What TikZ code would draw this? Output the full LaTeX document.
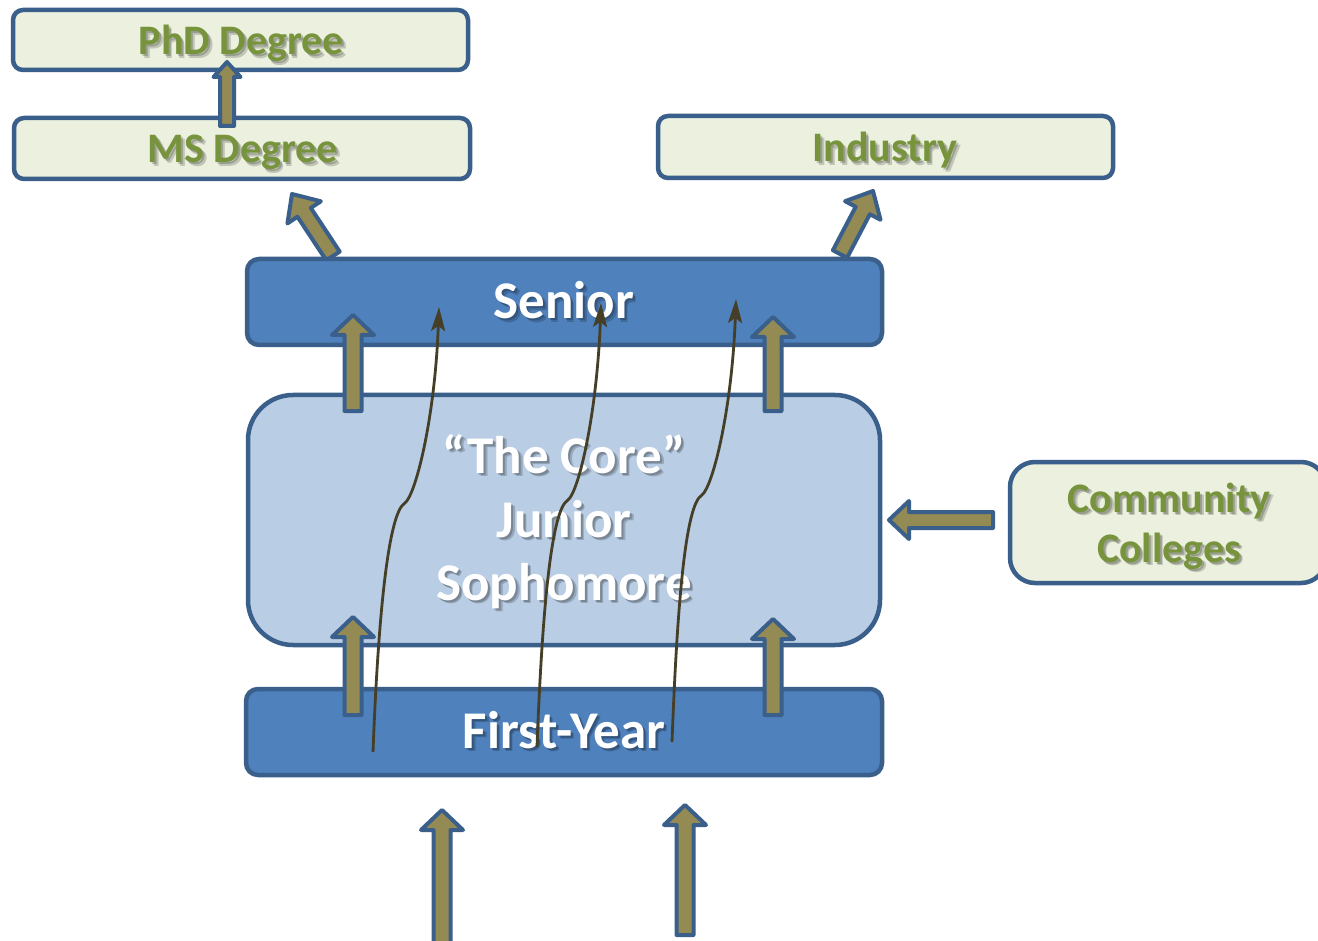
\documentclass[tikz,border=0pt]{standalone}
\usepackage{fontspec}
\setmainfont{Carlito}
\usetikzlibrary{calc,arrows.meta}

\definecolor{boxline}{HTML}{3A5F8B}
\definecolor{paleg}{HTML}{EBF1DE}
\definecolor{midblue}{HTML}{4F81BD}
\definecolor{paleblue}{HTML}{B9CDE5}
\definecolor{leafgreen}{HTML}{77933C}
\definecolor{olivefill}{HTML}{948A54}
\definecolor{pathbrown}{HTML}{463F28}

\tikzset{
  every node/.style={inner sep=0pt, outer sep=0pt},
  box/.style={draw=boxline, line width=4.5pt, rounded corners=10pt},
  greenbox/.style={box, fill=paleg},
  bluebox/.style={box, fill=midblue, rounded corners=12pt},
  greentext/.style={font=\fontsize{42}{50}\selectfont\bfseries, text=leafgreen, anchor=base},
  whitetext/.style={font=\fontsize{53}{63}\selectfont\bfseries, text=white, anchor=base},
  fatarrow/.style={draw=boxline, fill=olivefill, line width=4pt, line join=round},
  route/.style={draw=pathbrown, line width=2.8pt,
    -{Stealth[length=24pt, width=14pt, inset=5pt]}},
}

% block arrow from a base point to a tip point:
% #1 base, #2 tip, #3 shaft half width, #4 head half width, #5 head length
\newcommand\blockarrow[5]{%
  \coordinate (ba-h) at ($(#2)!#5!(#1)$);
  \draw[fatarrow] (#2)
    -- ($(ba-h)!#4!90:(#2)$)
    -- ($(ba-h)!#3!90:(#2)$)
    -- ($(#1)!#3!90:(#2)$)
    -- ($(#1)!#3!-90:(#2)$)
    -- ($(ba-h)!#3!-90:(#2)$)
    -- ($(ba-h)!#4!-90:(#2)$)
    -- cycle;}

% text with a soft drop shadow: #1 style, #2 name, #3 position, #4 text
\newcommand\shadowtext[4]{%
  \node[#1, text=black, opacity=0.18] at ($(#3)+(3.5,3.5)$) {#4};
  \node[#1, text=black, opacity=0.2] at ($(#3)+(2,2)$) {#4};
  \node[#1] (#2) at (#3) {#4};}

\begin{document}
\begin{tikzpicture}[x=1pt, y=-1pt]
\useasboundingbox (0,0) rectangle (1318,941);
\clip (0,0) rectangle (1318,941);
\fill[white] (0,0) rectangle (1318,941);

% exits from the senior year (drawn below the boxes)
\coordinate (ms-in-tip) at (292,194);
\coordinate (ms-in-base) at (333,256);
\coordinate (ind-in-tip) at (873,191);
\coordinate (ind-in-base) at (840,254);
\blockarrow{ms-in-base}{ms-in-tip}{8pt}{20pt}{22pt}
\blockarrow{ind-in-base}{ind-in-tip}{8pt}{20pt}{22pt}

% boxes
\node[greenbox, minimum width=455pt, minimum height=60pt] (phd) at (240.5,40) {};
\node[greenbox, minimum width=456pt, minimum height=61pt] (ms) at (242,148.5) {};
\node[greenbox, minimum width=455pt, minimum height=62pt] (ind) at (885.5,147) {};
\node[bluebox, minimum width=635pt, minimum height=86pt] (senior) at (564.5,302) {};
\node[box, fill=paleblue, rounded corners=45pt, minimum width=632pt, minimum height=250pt] (core) at (564,520) {};
\node[bluebox, minimum width=636pt, minimum height=86pt] (first) at (564,732) {};
\node[greenbox, rounded corners=25pt, minimum width=316pt, minimum height=121pt] (cc) at (1168,522.5) {};

% labels
\shadowtext{greentext}{phd-t}{241.5,55}{PhD Degree}
\shadowtext{greentext}{ms-t}{243,163}{MS Degree}
\shadowtext{greentext}{ind-t}{885,162}{Industry}
\shadowtext{greentext}{cc-t1}{1169,512}{Community}
\shadowtext{greentext}{cc-t2}{1169,562}{Colleges}
\shadowtext{whitetext}{sen-t}{564,319}{Senior}
\shadowtext{whitetext}{core-t1}{564,473}{“The Core”}
\shadowtext{whitetext}{core-t2}{564,537}{Junior}
\shadowtext{whitetext}{core-t3}{564,600}{Sophomore}
\shadowtext{whitetext}{fy-t}{564,748}{First-Year}

% block arrows between the stages
\coordinate (phd-in-tip) at (227,62);
\coordinate (phd-in-base) at (227,126);
\blockarrow{phd-in-base}{phd-in-tip}{7pt}{13.5pt}{15pt}

\coordinate (sen-l-tip) at (353,315);
\coordinate (sen-l-base) at (353,411);
\coordinate (sen-r-tip) at (773,317);
\coordinate (sen-r-base) at (773,411);
\blockarrow{sen-l-base}{sen-l-tip}{8.5pt}{21pt}{20pt}
\blockarrow{sen-r-base}{sen-r-tip}{8.5pt}{21pt}{20pt}

\coordinate (core-l-tip) at (353,617);
\coordinate (core-l-base) at (353,715);
\coordinate (core-r-tip) at (773,619);
\coordinate (core-r-base) at (773,715);
\blockarrow{core-l-base}{core-l-tip}{8.5pt}{21pt}{20pt}
\blockarrow{core-r-base}{core-r-tip}{8.5pt}{21pt}{20pt}

\coordinate (in-l-tip) at (442,810);
\coordinate (in-l-base) at (442,955);
\coordinate (in-r-tip) at (685,805);
\coordinate (in-r-base) at (685,935);
\blockarrow{in-l-base}{in-l-tip}{8.5pt}{21pt}{20pt}
\blockarrow{in-r-base}{in-r-tip}{8.5pt}{21pt}{20pt}

\coordinate (cc-out-tip) at (889,520);
\coordinate (cc-out-base) at (993,520);
\blockarrow{cc-out-base}{cc-out-tip}{8pt}{19pt}{20pt}

% individual student paths from first year to senior year
\coordinate (p1s) at (373,752); \coordinate (p1k) at (405,503); \coordinate (p1e) at (439,307);
\coordinate (p2s) at (537,747); \coordinate (p2k) at (568,500); \coordinate (p2e) at (601,303);
\coordinate (p3s) at (672,742); \coordinate (p3k) at (702,495); \coordinate (p3e) at (736,299);
\draw[route] (p1s) .. controls +(5,-132) and +(-17,9) .. (p1k)
  .. controls +(11,-9) and +(-4,110) .. (p1e);
\draw[route] (p2s) .. controls +(5,-132) and +(-17,9) .. (p2k)
  .. controls +(11,-9) and +(-4,110) .. (p2e);
\draw[route] (p3s) .. controls +(5,-132) and +(-17,9) .. (p3k)
  .. controls +(11,-9) and +(-4,110) .. (p3e);
\end{tikzpicture}
\end{document}
